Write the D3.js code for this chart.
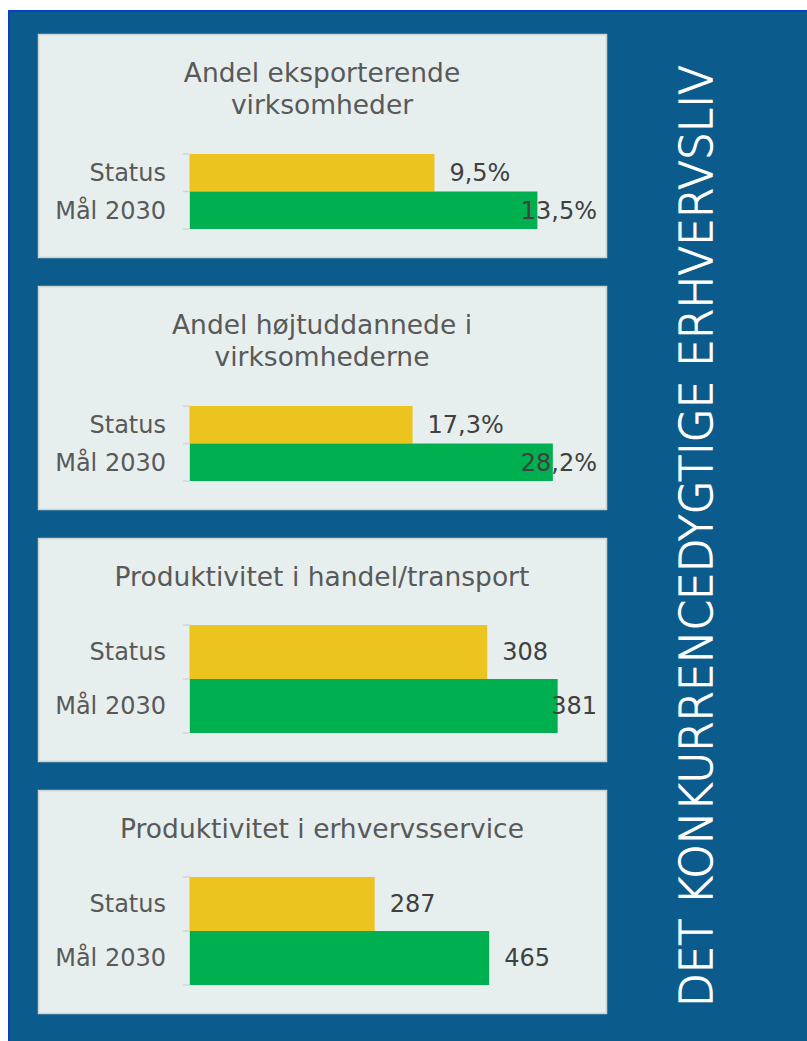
<!DOCTYPE html>
<html lang="da">
  <head>
    <meta charset="utf-8">
    <title>Det konkurrencedygtige erhvervsliv</title>
    <script src="https://d3js.org/d3.v7.min.js"></script>
    <style>
      body { margin: 0; background: #fff; }
      svg { display: block; }
      svg text { font-family: "DejaVu Sans", sans-serif; }
    </style>
  </head>
  <body>
    <div id="chart"></div>
    <script type="text/javascript">
      // data
      let categories = ["Status", "Mål 2030"];
      let titles = [
        ["Andel eksporterende", "virksomheder"],
        ["Andel højtuddannede i", "virksomhederne"],
        ["Produktivitet i handel/transport"],
        ["Produktivitet i erhvervsservice"]
      ];
      let statusValues = [9.5, 17.3, 308, 287];
      let goalValues = [13.5, 28.2, 381, 465];
      let valueLabels = [
        ["9,5%", "13,5%"],
        ["17,3%", "28,2%"],
        ["308", "381"],
        ["287", "465"]
      ];
      let axisMax = [15, 30, 400, 600];
      let sideTitle = "DET KONKURRENCEDYGTIGE ERHVERVSLIV";

      let w = 807, h = 1041;
      let colors = ["#ebc41f", "#00b050"];
      let font = "DejaVu Sans";

      let svg = d3.select("#chart").append("svg")
        .attr("width", w)
        .attr("height", h)
        .attr("font-family", font);

      // blue backdrop with thin bright border at top/left
      svg.append("rect")
        .attr("x", 8).attr("y", 10)
        .attr("width", w - 8).attr("height", h - 10)
        .attr("fill", "#0b5c8c");
      svg.append("path")
        .attr("d", "M9," + h + "V11H" + w)
        .attr("fill", "none")
        .attr("stroke", "#0a3fc4")
        .attr("stroke-width", 2);

      let panelX = 38, panelW = 568, panelH = 223;
      let panelTops = [34, 286, 538, 790];

      let axisX = 152;        // inside panel, bars start here
      let plotW = 386;
      let labelRight = 559;   // right limit of value labels inside panel

      titles.forEach(function(t, i) {
        let g = svg.append("g")
          .attr("transform", "translate(" + panelX + "," + panelTops[i] + ")");

        g.append("rect")
          .attr("x", 0.5).attr("y", 0.5)
          .attr("width", panelW).attr("height", panelH)
          .attr("fill", "#e6efee")
          .attr("stroke", "#c9d1d1")
          .attr("stroke-width", 1.5);

        // title
        let title = g.append("text")
          .attr("x", panelW / 2)
          .attr("y", 48)
          .attr("text-anchor", "middle")
          .attr("fill", "#595959")
          .attr("font-size", 26.5);
        t.forEach(function(line, j) {
          title.append("tspan")
            .attr("x", panelW / 2)
            .attr("dy", j === 0 ? 0 : 32)
            .text(line);
        });

        let top = t.length > 1 ? 120 : 87;
        let y = d3.scaleBand()
          .domain(categories)
          .range([top, 195])
          .padding(0);
        let x = d3.scaleLinear()
          .domain([0, axisMax[i]])
          .range([0, plotW]);

        let vals = [statusValues[i], goalValues[i]];

        let plot = g.append("g").attr("transform", "translate(" + axisX + ",0)");

        plot.selectAll("rect.bar")
          .data(vals)
          .enter()
          .append("rect")
          .attr("class", "bar")
          .attr("x", 0)
          .attr("y", function(d, k) { return y(categories[k]); })
          .attr("width", function(d) { return x(d); })
          .attr("height", y.bandwidth())
          .attr("fill", function(d, k) { return colors[k]; });

        // axis: category labels
        let ax = plot.append("g")
          .call(d3.axisLeft(y).tickSize(0).tickPadding(24))
          .attr("font-family", font)
          .attr("font-size", 24);
        ax.select(".domain").remove();
        ax.selectAll("text")
          .attr("fill", "#595959")
          .attr("dy", "0.35em");

        // axis line + boundary ticks like Excel
        let bounds = [top].concat(categories.map(function(c) { return y(c) + y.bandwidth(); }));
        plot.append("line")
          .attr("x1", -0.5).attr("x2", -0.5)
          .attr("y1", top).attr("y2", 195)
          .attr("stroke", "#d0d6d6");
        plot.selectAll("line.tick")
          .data(bounds)
          .enter()
          .append("line")
          .attr("class", "tick")
          .attr("x1", -7).attr("x2", 0)
          .attr("y1", function(d) { return d; })
          .attr("y2", function(d) { return d; })
          .attr("stroke", "#d0d6d6")
          .attr("stroke-width", 1.5);

        // value labels
        plot.selectAll("text.val")
          .data(vals)
          .enter()
          .append("text")
          .attr("class", "val")
          .attr("y", function(d, k) { return y(categories[k]) + y.bandwidth() / 2; })
          .attr("dy", "0.35em")
          .attr("fill", "#404040")
          .attr("font-size", 24)
          .text(function(d, k) { return valueLabels[i][k]; })
          .attr("x", function(d) {
            let tw = this.getComputedTextLength();
            return Math.min(x(d) + 15, labelRight - axisX - tw);
          });
      });

      // side title (light weight, slightly thickened with a stroke)
      svg.append("text")
        .attr("transform", "translate(712,1007) rotate(-90)")
        .attr("fill", "#ffffff")
        .attr("stroke", "#ffffff")
        .attr("stroke-width", 1.2)
        .attr("font-size", 44)
        .attr("font-weight", 200)
        .attr("textLength", 942)
        .attr("lengthAdjust", "spacingAndGlyphs")
        .text(sideTitle);
    </script>
  </body>
</html>
